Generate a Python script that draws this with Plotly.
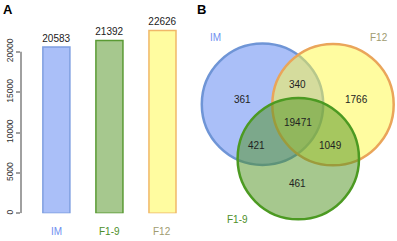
import plotly.graph_objects as go

# ---------------- data ----------------
categories = ["IM", "F1-9", "F12"]
totals = [20583, 21392, 22626]
y_ticks = [0, 5000, 10000, 15000, 20000]

venn_sets = ["IM", "F12", "F1-9"]
venn_regions = ["IM only", "IM&F12", "F12 only", "all", "IM&F1-9", "F12&F1-9", "F1-9 only"]
venn_counts = [361, 340, 1766, 19471, 421, 1049, 461]

# ---------------- styles ----------------
FONT = "Liberation Sans, Arial, sans-serif"
bar_fill = {"IM": "#aabff8", "F1-9": "#a6c88e", "F12": "#fffca0"}
bar_line = {"IM": "#7f9fe0", "F1-9": "#5a9a34", "F12": "#f0b868"}
label_col = {"IM": "#6f8ff0", "F1-9": "#4e8f2a", "F12": "#a09c70"}

circ_fill = {"IM": "rgba(85,127,241,0.5)", "F12": "rgba(255,249,65,0.5)", "F1-9": "rgba(77,145,29,0.5)"}
circ_line = {"IM": "#6f95d6", "F12": "#eaa55a", "F1-9": "#4c9a22"}
# circle geometry (pixel-like units of the Venn axes)
circ_geom = {"IM": (262.5, 104.2, 60.7), "F12": (333.0, 104.6, 60.7), "F1-9": (298.3, 158.6, 60.7)}
set_label_pos = {"IM": (215, 37), "F12": (379, 37), "F1-9": (237, 219.5)}
region_pos = {
    "IM only": (242.3, 99.5), "IM&F12": (297.3, 84.5), "F12 only": (356.7, 99.5),
    "all": (298.3, 122.7), "IM&F1-9": (256.7, 145.3), "F12&F1-9": (330, 145.7),
    "F1-9 only": (297.3, 183.5),
}

W, H = 397, 241
fig = go.Figure()

fig.add_trace(go.Bar(
    x=categories, y=totals,
    marker=dict(color=[bar_fill[c] for c in categories],
                line=dict(color=[bar_line[c] for c in categories], width=1.5)),
    width=0.51,
    text=[str(v) for v in totals], textposition="outside", constraintext="none",
    textfont=dict(family=FONT, size=10, color="#222222"),
    cliponaxis=False, showlegend=False, hoverinfo="skip",
))

y_bottom_px, y_top_px = 213.3, 11.3
fig.update_layout(
    width=W, height=H, margin=dict(l=0, r=0, t=0, b=0, pad=0),
    paper_bgcolor="white", plot_bgcolor="white",
    font=dict(family=FONT),
    xaxis=dict(domain=[21 / W, 189 / W], range=[-0.667, 2.5], showticklabels=False,
               showgrid=False, zeroline=False, showline=False, ticks=""),
    yaxis=dict(domain=[(H - y_bottom_px) / H, (H - y_top_px) / H], range=[0, 25000],
               tickvals=y_ticks, ticktext=[str(v) for v in y_ticks], tickangle=-90,
               ticks="outside", ticklen=4, tickwidth=1.5, tickcolor="#a0a0a0",
               tickfont=dict(family=FONT, size=8.5, color="#333333"),
               showgrid=False, zeroline=False, showline=False),
    xaxis2=dict(domain=[190 / W, 1], range=[190, 397], visible=False, fixedrange=True),
    yaxis2=dict(domain=[0, 1], range=[241, 0], visible=False, fixedrange=True, anchor="x2"),
)

shapes = [dict(type="line", xref="x domain", yref="y", x0=0, x1=0, y0=0, y1=y_ticks[-1],
               line=dict(color="#a0a0a0", width=2))]
for s in venn_sets:
    cx, cy, r = circ_geom[s]
    shapes.append(dict(type="circle", xref="x2", yref="y2", x0=cx - r, x1=cx + r,
                       y0=cy - r, y1=cy + r, fillcolor=circ_fill[s],
                       line=dict(color=circ_line[s], width=2.5), layer="above"))
fig.update_layout(shapes=shapes)

C = dict(xanchor="center", yanchor="middle", showarrow=False)
ann = []
for c in categories:
    ann.append(dict(x=c, y=(H - 231.7) / H, xref="x", yref="paper", text=c,
                    font=dict(family=FONT, size=10, color=label_col[c]), **C))
ann.append(dict(x=7.5 / W, y=(H - 10) / H, xref="paper", yref="paper", text="<b>A</b>",
                font=dict(family=FONT, size=13, color="black"), **C))
ann.append(dict(x=201 / W, y=(H - 9.5) / H, xref="paper", yref="paper", text="<b>B</b>",
                font=dict(family=FONT, size=13, color="black"), **C))
for s in venn_sets:
    lx, ly = set_label_pos[s]
    ann.append(dict(x=lx, y=ly, xref="x2", yref="y2", text=s,
                    font=dict(family=FONT, size=10, color=label_col[s]), **C))
for reg, cnt in zip(venn_regions, venn_counts):
    px_, py_ = region_pos[reg]
    ann.append(dict(x=px_, y=py_, xref="x2", yref="y2", text=str(cnt),
                    font=dict(family=FONT, size=10, color="#222222"), **C))
fig.update_layout(annotations=ann)

fig.write_html("out.html", config={"displayModeBar": False},
               post_script="document.body.style.margin='0';document.body.style.overflow='hidden';")
